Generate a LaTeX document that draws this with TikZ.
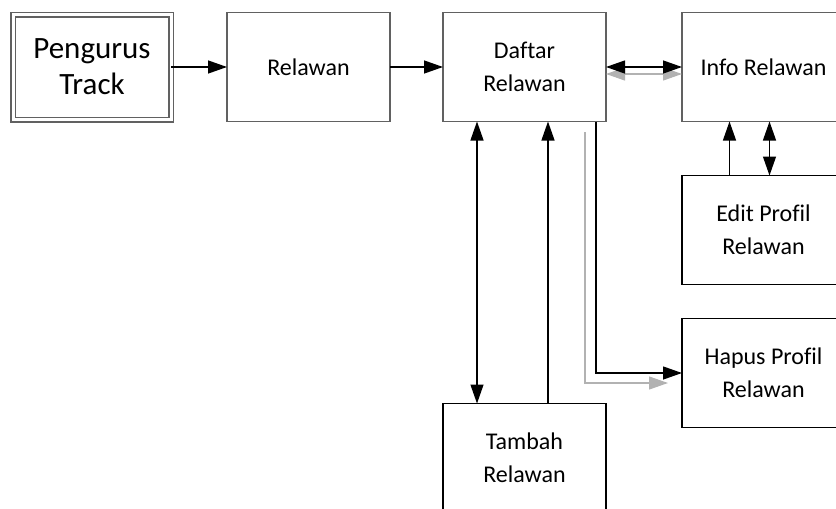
\documentclass[tikz,border=0pt]{standalone}
\usepackage{fontspec}
\setmainfont{Carlito}[Ligatures=NoCommon]
\usetikzlibrary{arrows.meta,positioning}

\begin{document}
\begin{tikzpicture}[x=1pt, y=-1pt,
node distance=54pt,
    B/.style = {rectangle, draw=black!62, line width=1.8pt,% boxes of top row
                minimum width=163pt, minimum height=109pt,
                align=center, outer sep=0pt,
                font=\fontsize{24}{33}\selectfont},
    C/.style = {B, draw=black},% boxes below
    A/.style = {line width=1.3pt, -{Triangle[length=19pt,width=13pt]}},
   AA/.style = {A, {Triangle[length=19pt,width=13pt]}-{Triangle[length=19pt,width=13pt]}},
    G/.style = {A, draw=black!30, line width=1.1pt},
                        ]
\useasboundingbox (0,0) rectangle (836,509);
% top row
\node[B, double, double distance=3pt, line width=1.5pt,
      minimum width=158pt, minimum height=105pt,
      font=\fontsize{31}{36}\selectfont] (peng) at (92,67) {Pengurus\\Track};
\node[B, right=56pt of peng] (rel) {Relawan};
\node[B, right=53pt of rel]  (daf) {Daftar\\Relawan};
\node[B, right=76pt of daf]  (info) {Info Relawan};
% below
\node[C, below=54pt of info] (edit) {Edit Profil\\Relawan};
\node[C, below=34pt of edit] (hap)  {Hapus Profil\\Relawan};
\node[C, below=282pt of daf] (tam)  {Tambah\\Relawan};
% connectors
\draw[G, {Triangle[length=19pt,width=13pt]}-{Triangle[length=19pt,width=13pt]}]
    ([yshift=-7pt]daf.east) -- ([yshift=-7pt]info.west);
\draw[A] (peng) -- (rel);
\draw[A] (rel) -- (daf);
\draw[AA] (daf) -- (info);
\draw[AA] ([xshift=-47.5pt]daf.south) -- ([xshift=-47.5pt]tam.north);
\draw[A] ([xshift=23.5pt]tam.north) -- ([xshift=23.5pt]daf.south);
\coordinate (g1) at (585,132);
\coordinate (g2) at (668,383);
\draw[G] (g1) |- (g2);
\draw[A] ([xshift=71.5pt]daf.south) |- (hap);
\draw[A] ([xshift=-34pt]edit.north) -- ([xshift=-34pt]info.south);
\draw[AA] ([xshift=6pt]edit.north) -- ([xshift=6pt]info.south);
\end{tikzpicture}
\end{document}
